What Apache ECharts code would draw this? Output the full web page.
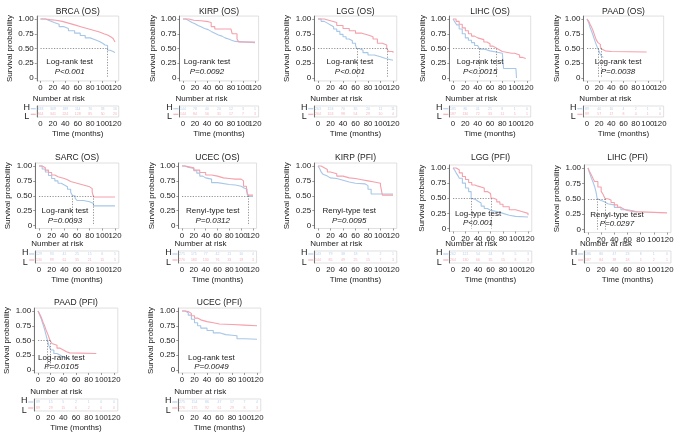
<!DOCTYPE html>
<html><head><meta charset="utf-8">
<script src="https://cdn.jsdelivr.net/npm/echarts@6/dist/echarts.min.js"></script>
<style>html,body{margin:0;padding:0;background:#fff}#c{width:677px;height:434px}</style>
</head><body><div id="c"></div>
<script>
// ---------- data ----------
const RISK_TIMES = [0,20,40,60,80,100,120];
const X_TICKS = [0,20,40,60,80,100,120];
const Y_TICKS = [0,0.25,0.5,0.75,1];

const BRCA_OS_H = [[0,1],[8,0.97],[15,0.94],[22,0.91],[30,0.87],[38,0.84],[45,0.80],[55,0.76],[64,0.72],[72,0.68],[80,0.65],[88,0.62],[95,0.59],[100,0.56],[104,0.55],[108,0.47],[112,0.45],[117,0.43],[120,0.42]];
const BRCA_OS_L = [[0,1],[8,0.99],[15,0.98],[25,0.96],[35,0.93],[45,0.90],[55,0.87],[65,0.84],[75,0.81],[85,0.78],[95,0.75],[102,0.73],[108,0.70],[113,0.67],[117,0.64],[120,0.61]];
const BRCA_OS_MED = [108];
const BRCA_OS_RISK_H = [333,309,189,114,70,33,16];
const BRCA_OS_RISK_L = [364,341,224,128,85,50,20];

const KIRP_OS_H = [[0,1],[5,0.97],[10,0.94],[15,0.92],[20,0.89],[25,0.87],[30,0.84],[36,0.82],[42,0.79],[47,0.76],[53,0.73],[59,0.71],[65,0.68],[70,0.66],[76,0.64],[81,0.62],[87,0.60],[120,0.60]];
const KIRP_OS_L = [[0,1],[10,0.98],[18,0.97],[30,0.955],[42,0.94],[47,0.87],[53,0.83],[80,0.83],[82,0.75],[90,0.66],[93,0.61],[120,0.61]];
const KIRP_OS_MED = [];
const KIRP_OS_RISK_H = [144,78,40,20,12,3,1];
const KIRP_OS_RISK_L = [144,84,56,31,17,7,3];

const LGG_OS_H = [[0,1],[5,0.96],[10,0.93],[15,0.90],[20,0.87],[25,0.83],[30,0.79],[35,0.74],[40,0.70],[45,0.66],[50,0.63],[55,0.59],[60,0.55],[62,0.50],[66,0.47],[72,0.43],[80,0.39],[90,0.36],[100,0.33],[108,0.30],[120,0.29]];
const LGG_OS_L = [[0,1],[10,0.97],[20,0.94],[30,0.89],[40,0.84],[50,0.80],[60,0.76],[70,0.73],[80,0.70],[88,0.66],[95,0.59],[103,0.56],[110,0.50],[113,0.45],[120,0.43]];
const LGG_OS_MED = [62,110];
const LGG_OS_RISK_H = [263,153,70,35,20,11,11];
const LGG_OS_RISK_L = [264,153,98,54,29,10,4];

const LIHC_OS_H = [[0,1],[3,0.95],[6,0.90],[10,0.83],[15,0.75],[20,0.68],[25,0.64],[30,0.60],[35,0.55],[40,0.52],[43,0.49],[50,0.46],[60,0.44],[70,0.42],[80,0.39],[82,0.16],[102,0.16],[103,0]];
const LIHC_OS_L = [[0,1],[5,0.96],[10,0.91],[15,0.85],[20,0.80],[25,0.75],[30,0.71],[35,0.68],[40,0.65],[50,0.61],[55,0.58],[60,0.54],[65,0.51],[70,0.48],[75,0.45],[80,0.42],[95,0.42],[100,0.39],[108,0.35],[112,0.33],[118,0.33]];
const LIHC_OS_MED = [43,70];
const LIHC_OS_RISK_H = [185,80,41,21,8,1,0];
const LIHC_OS_RISK_L = [187,130,72,33,11,5,1];

const PAAD_OS_H = [[0,1],[3,0.93],[5,0.86],[8,0.78],[10,0.72],[13,0.63],[15,0.57],[17,0.52],[19,0.48],[21,0.42],[24,0.37],[27,0.35]];
const PAAD_OS_L = [[0,1],[3,0.96],[5,0.91],[8,0.85],[10,0.80],[13,0.71],[15,0.65],[18,0.60],[20,0.57],[22,0.53],[24,0.49],[27,0.46],[30,0.45],[40,0.44],[98,0.44]];
const PAAD_OS_MED = [19,24];
const PAAD_OS_RISK_H = [89,40,10,4,2,1,0];
const PAAD_OS_RISK_L = [89,57,17,8,4,1,0];

const SARC_OS_H = [[0,1],[5,0.95],[10,0.90],[15,0.84],[20,0.79],[25,0.75],[30,0.71],[35,0.68],[40,0.65],[45,0.61],[50,0.56],[53,0.50],[57,0.46],[60,0.42],[70,0.40],[80,0.37],[86,0.33],[120,0.32]];
const SARC_OS_L = [[0,1],[5,0.97],[10,0.93],[15,0.89],[20,0.85],[25,0.82],[30,0.79],[40,0.77],[45,0.74],[50,0.71],[60,0.68],[70,0.65],[80,0.62],[84,0.56],[86,0.48],[120,0.48]];
const SARC_OS_MED = [53,86];
const SARC_OS_RISK_H = [129,93,41,25,15,6,5];
const SARC_OS_RISK_L = [130,99,61,35,21,15,5];

const UCEC_OS_H = [[0,1],[5,0.98],[10,0.96],[20,0.92],[25,0.88],[30,0.83],[35,0.80],[40,0.78],[50,0.72],[60,0.69],[80,0.68],[90,0.66],[100,0.63],[105,0.61],[110,0.53],[112,0.49],[120,0.49]];
const UCEC_OS_L = [[0,1],[5,0.99],[10,0.97],[20,0.93],[30,0.89],[40,0.85],[50,0.83],[60,0.80],[70,0.79],[80,0.78],[90,0.78],[100,0.75],[104,0.66],[109,0.58],[112,0.51],[120,0.51]];
const UCEC_OS_MED = [112];
const UCEC_OS_RISK_H = [275,175,77,42,21,10,4];
const UCEC_OS_RISK_L = [276,183,130,76,33,19,3];

const KIRP_PFI_H = [[0,1],[3,0.95],[5,0.90],[8,0.86],[10,0.83],[15,0.80],[20,0.79],[30,0.76],[40,0.73],[50,0.71],[60,0.70],[75,0.67],[80,0.61],[85,0.53],[120,0.53]];
const KIRP_PFI_L = [[0,1],[5,0.97],[10,0.94],[15,0.90],[20,0.87],[30,0.83],[40,0.80],[50,0.79],[60,0.77],[70,0.75],[80,0.73],[90,0.71],[100,0.67],[103,0.51],[120,0.51]];
const KIRP_PFI_MED = [];
const KIRP_PFI_RISK_H = [143,79,38,18,6,2,1];
const KIRP_PFI_RISK_L = [144,85,49,25,15,7,3];

const LGG_PFI_H = [[0,1],[3,0.96],[5,0.92],[8,0.87],[10,0.83],[15,0.75],[20,0.67],[25,0.61],[29,0.50],[32,0.48],[36,0.45],[40,0.42],[45,0.37],[50,0.33],[55,0.30],[60,0.28],[70,0.25],[80,0.22],[90,0.20],[100,0.19],[120,0.18]];
const LGG_PFI_L = [[0,1],[5,0.97],[10,0.92],[15,0.86],[20,0.81],[25,0.76],[30,0.72],[35,0.70],[40,0.67],[50,0.61],[55,0.58],[60,0.55],[61,0.50],[65,0.48],[70,0.44],[75,0.40],[80,0.36],[90,0.31],[100,0.28],[110,0.25],[120,0.22]];
const LGG_PFI_MED = [29,61];
const LGG_PFI_RISK_H = [262,121,54,24,9,5,3];
const LGG_PFI_RISK_L = [264,130,66,35,15,8,3];

const LIHC_PFI_H = [[0,1],[2,0.93],[5,0.84],[8,0.76],[10,0.70],[12,0.62],[14,0.50],[17,0.47],[20,0.45],[25,0.42],[30,0.40],[40,0.36],[50,0.32],[60,0.30],[70,0.28],[75,0.27]];
const LIHC_PFI_L = [[0,1],[2,0.95],[5,0.89],[8,0.82],[10,0.78],[15,0.69],[20,0.62],[23,0.57],[26,0.50],[30,0.48],[35,0.44],[40,0.40],[45,0.36],[50,0.33],[55,0.31],[60,0.29],[70,0.27],[120,0.27]];
const LIHC_PFI_MED = [14,26];
const LIHC_PFI_RISK_H = [186,86,47,23,8,1,0];
const LIHC_PFI_RISK_L = [187,84,39,18,5,2,1];

const PAAD_PFI_H = [[0,1],[2,0.95],[5,0.87],[8,0.77],[10,0.70],[12,0.62],[15,0.50],[17,0.42],[20,0.34],[25,0.28],[30,0.25],[35,0.22],[40,0.19],[50,0.17]];
const PAAD_PFI_L = [[0,1],[2,0.96],[5,0.90],[8,0.81],[10,0.76],[13,0.67],[15,0.62],[17,0.56],[19,0.50],[22,0.45],[25,0.42],[30,0.37],[35,0.34],[40,0.31],[45,0.29],[50,0.28],[92,0.28]];
const PAAD_PFI_MED = [15,19];
const PAAD_PFI_RISK_H = [89,15,5,2,1,0,0];
const PAAD_PFI_RISK_L = [89,29,15,6,2,0,0];

const UCEC_PFI_H = [[0,1],[5,0.97],[10,0.93],[15,0.86],[20,0.80],[25,0.75],[30,0.71],[40,0.67],[50,0.63],[60,0.60],[70,0.59],[80,0.58],[88,0.53],[100,0.52],[120,0.51]];
const UCEC_PFI_L = [[0,1],[5,0.99],[10,0.96],[15,0.92],[20,0.88],[25,0.85],[30,0.82],[40,0.80],[50,0.78],[60,0.77],[80,0.76],[100,0.75],[120,0.74]];
const UCEC_PFI_MED = [];
const UCEC_PFI_RISK_H = [275,154,86,47,17,7,4];
const UCEC_PFI_RISK_L = [276,175,92,61,29,8,3];

const TITLES = ['BRCA (OS)','KIRP (OS)','LGG (OS)','LIHC (OS)','PAAD (OS)','SARC (OS)','UCEC (OS)','KIRP (PFI)','LGG (PFI)','LIHC (PFI)','PAAD (PFI)','UCEC (PFI)'];
const TESTS = ['Log-rank test','Log-rank test','Log-rank test','Log-rank test','Log-rank test','Log-rank test','Renyi-type test','Renyi-type test','Log-type test','Renyi-type test','Log-rank test','Log-rank test'];
const PVALS = ['P<0.001','P=0.0092','P<0.001','P<0.0015','P=0.0038','P=0.0093','P=0.0312','P=0.0095','P<0.001','P=0.0297','P=0.0105','P=0.0049'];

const CURVES_H = [BRCA_OS_H,KIRP_OS_H,LGG_OS_H,LIHC_OS_H,PAAD_OS_H,SARC_OS_H,UCEC_OS_H,KIRP_PFI_H,LGG_PFI_H,LIHC_PFI_H,PAAD_PFI_H,UCEC_PFI_H];
const CURVES_L = [BRCA_OS_L,KIRP_OS_L,LGG_OS_L,LIHC_OS_L,PAAD_OS_L,SARC_OS_L,UCEC_OS_L,KIRP_PFI_L,LGG_PFI_L,LIHC_PFI_L,PAAD_PFI_L,UCEC_PFI_L];
const MEDIANS = [BRCA_OS_MED,KIRP_OS_MED,LGG_OS_MED,LIHC_OS_MED,PAAD_OS_MED,SARC_OS_MED,UCEC_OS_MED,KIRP_PFI_MED,LGG_PFI_MED,LIHC_PFI_MED,PAAD_PFI_MED,UCEC_PFI_MED];
const RISK_H = [BRCA_OS_RISK_H,KIRP_OS_RISK_H,LGG_OS_RISK_H,LIHC_OS_RISK_H,PAAD_OS_RISK_H,SARC_OS_RISK_H,UCEC_OS_RISK_H,KIRP_PFI_RISK_H,LGG_PFI_RISK_H,LIHC_PFI_RISK_H,PAAD_PFI_RISK_H,UCEC_PFI_RISK_H];
const RISK_L = [BRCA_OS_RISK_L,KIRP_OS_RISK_L,LGG_OS_RISK_L,LIHC_OS_RISK_L,PAAD_OS_RISK_L,SARC_OS_RISK_L,UCEC_OS_RISK_L,KIRP_PFI_RISK_L,LGG_PFI_RISK_L,LIHC_PFI_RISK_L,PAAD_PFI_RISK_L,UCEC_PFI_RISK_L];

// ---------- layout (pixel geometry per panel) ----------
const ROWS = [
  {gy1:19, gy0:78, tb0:106, tb1:117, titleY:12, ts:0.27},
  {gy1:166, gy0:225.5, tb0:251, tb1:263, titleY:158, ts:0.245},
  {gy1:311, gy0:370, tb0:399, tb1:411, titleY:303, ts:0.21}
];
const LAYOUT = [
  {row:0, gx0:40.5, gx1:115, tx:47},
  {row:0, gx0:183, gx1:255, tx:40},
  {row:0, gx0:318, gx1:393, tx:51},
  {row:0, gx0:453, gx1:527, tx:44},
  {row:0, gx0:587, gx1:660, tx:51},
  {row:1, gx0:39, gx1:115, tx:41},
  {row:1, gx0:182, gx1:253, tx:52},
  {row:1, gx0:318, gx1:393, tx:50},
  {row:1, gx0:453, gx1:528, tx:40, gy1:168, gy0:228.5},
  {row:1, gx0:588, gx1:667, tx:44, gy1:168, gy0:229.5},
  {row:2, gx0:38, gx1:114, tx:37},
  {row:2, gx0:182, gx1:257, tx:47}
];

const FONT = '"Liberation Sans", Arial, sans-serif';
const COL_H = '#A7C7E8';
const COL_L = '#F5A0AB';
const TXT = '#222';
const AX = '#555';
const BORDER = '#d2d2d2';

const grids = [], xAxes = [], yAxes = [], series = [], graphics = [];
function txt(x, y, text, opt) {
  opt = opt || {};
  graphics.push({type:'text', x:x, y:y, rotation:opt.rot||0, silent:true, z:10,
    style:{text:text, fill:opt.fill||TXT, font:(opt.italic?'italic ':'')+(opt.size||8)+'px '+FONT,
      align:opt.align||'center', verticalAlign:'middle'}});
}
// tick labels split over two coincident bottom axes so that none is dropped for touching its neighbour
const TICKS_A = X_TICKS.filter((v, k) => k % 2 === 0);
const TICKS_B = X_TICKS.filter((v, k) => k % 2 === 1);
const lab = vals => ({customValues:vals, margin:3, fontSize:7.8, color:TXT, fontFamily:FONT,
  hideOverlap:false, showMinLabel:true, showMaxLabel:true});

function addX(gridIndex, withTicks) {
  const main = xAxes.length;
  xAxes.push({type:'value', gridIndex:gridIndex, position:'bottom', min:-6, max:126, splitLine:{show:false},
    axisLine:{show:false, onZero:false},
    axisTick:{show:withTicks, customValues:X_TICKS, length:2, lineStyle:{color:AX, width:0.6}},
    axisLabel:lab(TICKS_A)});
  xAxes.push({type:'value', gridIndex:gridIndex, position:'bottom', offset:0, min:-6, max:126, splitLine:{show:false},
    axisLine:{show:false, onZero:false}, axisTick:{show:false},
    axisLabel:lab(TICKS_B)});
  return main;
}

TITLES.forEach((title, i) => {
  const L = LAYOUT[i], R = ROWS[L.row];
  const gy1 = L.gy1 !== undefined ? L.gy1 : R.gy1;
  const gy0 = L.gy0 !== undefined ? L.gy0 : R.gy0;
  const kx = L.gx1 - L.gx0, ky = gy0 - gy1;
  const left = L.gx0 - 0.05*kx, width = 1.1*kx;
  const top = gy1 - 0.05*ky, height = 1.1*ky;

  // --- survival plot ---
  const pi = grids.length;
  grids.push({left:left, top:top, width:width, height:height, show:true, borderColor:BORDER, borderWidth:0.7, outerBoundsMode:'none'});
  const px = addX(pi, true);
  const py = yAxes.length;
  yAxes.push({type:'value', gridIndex:pi, min:-0.05, max:1.05, splitLine:{show:false},
    axisLine:{show:true, onZero:false, lineStyle:{color:AX, width:0.8}},
    axisTick:{show:true, customValues:Y_TICKS, length:2, lineStyle:{color:AX, width:0.6}},
    axisLabel:{customValues:Y_TICKS, fontSize:8, margin:3, color:TXT, fontFamily:FONT, hideOverlap:false,
      showMinLabel:true, showMaxLabel:true,
      formatter: v => (v === 0 ? '0' : v.toFixed(2))}});

  const med = MEDIANS[i];
  const mlData = [];
  if (med.length) {
    const mx = Math.max.apply(null, med);
    mlData.push([{coord:[0,0.5]},{coord:[mx,0.5]}]);
    med.forEach(m => mlData.push([{coord:[m,0.5]},{coord:[m,0]}]));
  }
  series.push({type:'line', xAxisIndex:px, yAxisIndex:py, data:CURVES_L[i], step:'end', showSymbol:false, silent:true,
    lineStyle:{color:COL_L, width:1.1}, itemStyle:{color:COL_L}, z:3});
  series.push({type:'line', xAxisIndex:px, yAxisIndex:py, data:CURVES_H[i], step:'end', showSymbol:false, silent:true,
    lineStyle:{color:COL_H, width:1.1}, itemStyle:{color:COL_H}, z:2,
    markLine:{silent:true, symbol:'none', animation:false, label:{show:false},
      lineStyle:{type:[1.2,1.5], color:'#777', width:0.8}, data:mlData}});

  // --- risk table ---
  const ti = grids.length;
  grids.push({left:left, top:R.tb0, width:width, height:R.tb1-R.tb0, show:true, borderColor:BORDER, borderWidth:0.7, outerBoundsMode:'none'});
  const tx = addX(ti, false);
  const ty = yAxes.length;
  yAxes.push({type:'category', gridIndex:ti, data:['L','H'], splitLine:{show:false},
    axisLine:{show:true, onZero:false, lineStyle:{color:AX, width:0.8}},
    axisTick:{show:false}, axisLabel:{show:false}});
  const mk = (arr, g) => arr.map((n, k) => [RISK_TIMES[k], g, n]);
  [['H', RISK_H[i], COL_H], ['L', RISK_L[i], COL_L]].forEach(([g, arr, col]) => {
    series.push({type:'scatter', xAxisIndex:tx, yAxisIndex:ty, data:mk(arr, g), symbolSize:0, silent:true,
      encode:{x:0, y:1},
      label:{show:true, position:'inside', formatter:p => String(p.value[2]), fontSize:3.5, color:col, fontFamily:FONT}});
  });

  // --- annotations ---
  const cx = left + width/2;
  txt(cx, R.titleY, title, {size:8.5});
  txt(left - 27, (gy1 + gy0)/2, 'Survival probability', {rot:Math.PI/2, size:8});
  const tpx = L.gx0 + (L.tx/120)*kx;
  const tpy = gy0 - R.ts*ky;
  txt(tpx, tpy, TESTS[i], {size:8});
  txt(tpx, tpy + 9.5, PVALS[i], {size:8, italic:true});
  txt(left - 4, R.tb0 - 7, 'Number at risk', {size:8, align:'left'});
  txt(cx, R.tb1 + 17, 'Time (months)', {size:8});
  const th = R.tb1 - R.tb0;
  txt(left - 10, R.tb0 + 2, 'H', {size:9});
  txt(left - 10, R.tb1, 'L', {size:9});
  graphics.push({type:'line', silent:true, shape:{x1:left-6, y1:R.tb0+th*0.25, x2:left-1, y2:R.tb0+th*0.25}, style:{stroke:COL_H, lineWidth:1}});
  graphics.push({type:'line', silent:true, shape:{x1:left-6, y1:R.tb0+th*0.75, x2:left-1, y2:R.tb0+th*0.75}, style:{stroke:COL_L, lineWidth:1}});
});

const chart = echarts.init(document.getElementById('c'), null, {renderer:'canvas'});
chart.setOption({
  animation:false,
  backgroundColor:'#fff',
  grid:grids, xAxis:xAxes, yAxis:yAxes, series:series,
  graphic:{elements:graphics}
});
</script>
</body></html>
